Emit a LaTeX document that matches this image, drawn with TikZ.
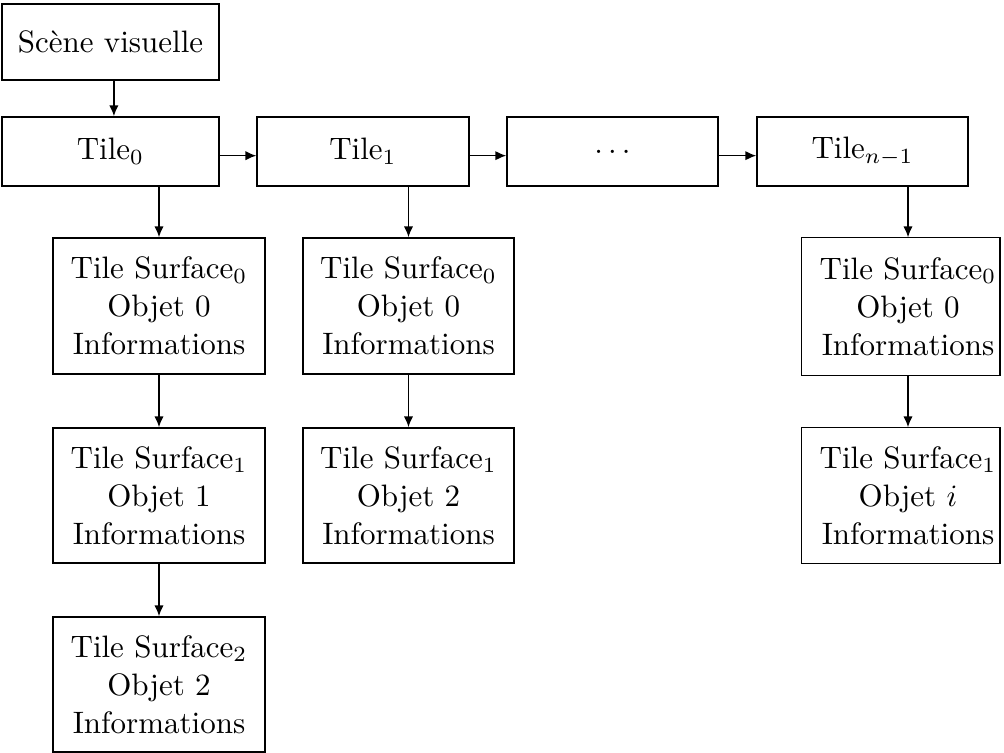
\documentclass[tikz,border=0pt]{standalone}
\usetikzlibrary{arrows.meta}
\begin{document}
\begin{tikzpicture}[x=0.3226pt,y=-0.3226pt, line width=0.45pt,
  box/.style={draw, inner sep=0pt, align=center, font=\fontsize{10}{12.26}\selectfont},
  ghost/.style={box, draw=none},
  arr/.style={-{Latex[length=3.5pt,width=3pt]}}]
\useasboundingbox (0,0) rectangle (1004,753);
% top
\node[box, minimum width=70pt, minimum height=24.5pt] (scene) at (110.5,42) {Sc\`ene visuelle};
\node[box, minimum width=70pt, minimum height=22.3pt] (t0) at (110.5,151.5) {Tile$_0$};
\node[box, minimum width=68.4pt, minimum height=22.3pt] (t1) at (363,151.5) {Tile$_1$};
\node[box, minimum width=68.1pt, minimum height=22.3pt] (dots) at (612.5,151.5) {$\ldots$};
\node[box, minimum width=68.1pt, minimum height=22.3pt] (tn) at (862.5,151.5) {Tile$_{n-1}$};
% column 1
\node[box, minimum width=68.4pt, minimum height=43.9pt] (c1a) at (159,306) {Tile Surface$_0$\\Objet 0\\Informations};
\node[box, minimum width=68.4pt, minimum height=43.6pt] (c1b) at (159,495.5) {Tile Surface$_1$\\Objet 1\\Informations};
\node[box, minimum width=68.4pt, minimum height=43.6pt] (c1c) at (159,684.5) {Tile Surface$_2$\\Objet 2\\Informations};
% column 2
\node[box, minimum width=68.1pt, minimum height=43.9pt] (c2a) at (408.5,306) {Tile Surface$_0$\\Objet 0\\Informations};
\node[box, minimum width=68.1pt, minimum height=43.6pt] (c2b) at (408.5,495.5) {Tile Surface$_1$\\Objet 2\\Informations};
% column 3 (clipped at right)
\coordinate (redge) at (1000,0);
\node[ghost, minimum width=68.4pt, minimum height=44.2pt] (c3a) at (908,306.5) {Tile Surface$_0$\\Objet 0\\Informations};
\node[ghost, minimum width=68.4pt, minimum height=43.6pt] (c3b) at (908,495.5) {Tile Surface$_1$\\Objet $i$\\Informations};
\draw (c3a.south west) rectangle (c3a.north -| redge);
\draw (c3b.south west) rectangle (c3b.north -| redge);
% arrows
\draw[arr] ([xshift=1.1pt]scene.south) -- ([xshift=1.1pt]t0.north);
\draw[arr] ([yshift=-1.35pt]t0.east) -- ([yshift=-1.35pt]t0.east -| t1.west);
\draw[arr] ([yshift=-1.35pt]t1.east) -- ([yshift=-1.35pt]t1.east -| dots.west);
\draw[arr] ([yshift=-1.35pt]dots.east) -- ([yshift=-1.35pt]dots.east -| tn.west);
\draw[arr] (c1a.north |- t0.south) -- (c1a.north);
\draw[arr] (c1a.south) -- (c1b.north);
\draw[arr] (c1b.south) -- (c1c.north);
\draw[arr] (c2a.north |- t1.south) -- (c2a.north);
\draw[arr] (c2a.south) -- (c2b.north);
\draw[arr] (c3a.north |- tn.south) -- (c3a.north);
\draw[arr] (c3a.south) -- (c3b.north);
\end{tikzpicture}
\end{document}
